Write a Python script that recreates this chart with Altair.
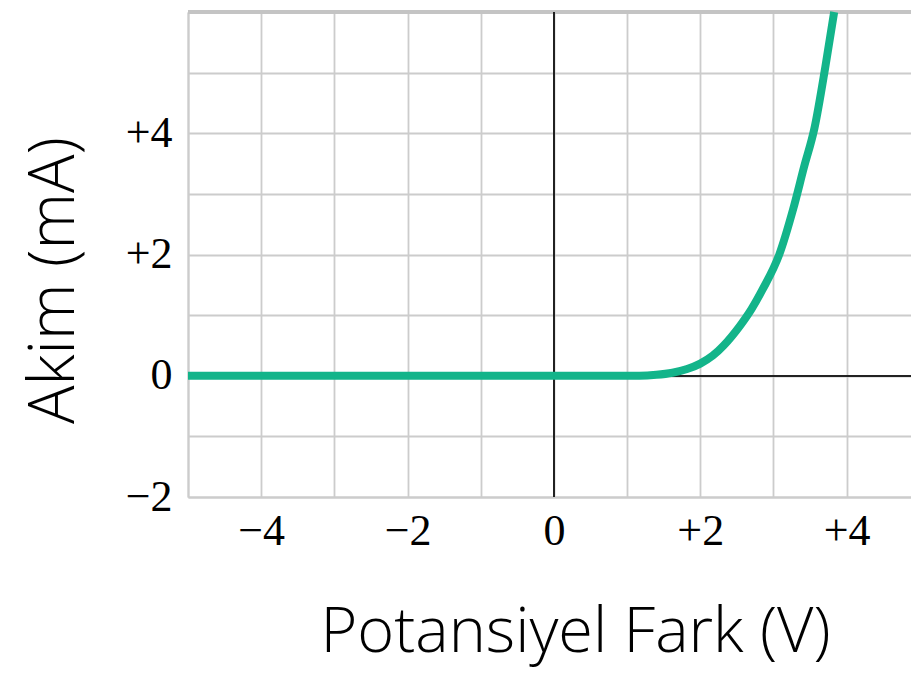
import altair as alt
import pandas as pd

# Current-voltage curve of a diode
voltage = [-5.0, 1.0, 1.17, 1.4, 1.62, 1.82, 2.0, 2.17, 2.32, 2.54, 2.7, 2.85, 3.08, 3.27, 3.42, 3.56, 3.71, 3.83]
current = [0.0, 0.0, 0.0, 0.015, 0.05, 0.11, 0.2, 0.33, 0.5, 0.82, 1.1, 1.42, 2.0, 2.75, 3.45, 4.08, 5.1, 6.0]

x_grid = [-5, -4, -3, -2, -1, 0, 1, 2, 3, 4]
y_grid = [-2, -1, 0, 1, 2, 3, 4, 5, 6]

df = pd.DataFrame({"V": voltage, "I": current})

# the picture is cut at its right edge a little before +5
x_scale = alt.Scale(domain=[-5, 4.88], nice=False, zero=False)
y_scale = alt.Scale(domain=[-2, 6], nice=False, zero=False)

label_expr = ("datum.value % 2 == 0 && datum.value > -5 && datum.value < 6 ? "
              "(datum.value > 0 ? '+' + datum.value : (datum.value < 0 ? '\u2212' + abs(datum.value) : '0')) : ''")

x_axis = alt.Axis(
    values=x_grid, labelExpr=label_expr, title="Potansiyel Fark (V)",
    grid=True, gridColor="#cccccc", gridWidth=1.8,
    ticks=False, tickSize=0, domain=True, domainColor="#cccccc", domainWidth=2,
    labelFont="Liberation Serif", labelFontSize=44, labelColor="#000000",
    labelPadding=12, labelFlush=False, labelOverlap=False, labelBound=False,
    titleFont="Open Sans", titleFontWeight=300, titleFontSize=63, titleColor="#000000",
    titleX=387, titleY=154, titleAlign="center", titleBaseline="alphabetic",
)
y_axis = alt.Axis(
    values=y_grid, labelExpr=label_expr, title="Akim (mA)",
    grid=True, gridColor="#cccccc", gridWidth=1.8,
    ticks=False, tickSize=0, domain=True, domainColor="#cccccc", domainWidth=2,
    labelFont="Liberation Serif", labelFontSize=44, labelColor="#000000",
    labelPadding=16, labelFlush=False, labelOverlap=False, labelBound=False,
    labelBaseline="middle",
    titleFont="Open Sans", titleFontWeight=300, titleFontSize=64, titleColor="#000000",
    titleX=-134, titleY=268, titleAlign="center", titleBaseline="middle", titleAngle=270,
)

base = alt.Chart(df)

curve = base.mark_line(color="#13b48a", strokeWidth=8, interpolate="monotone", strokeCap="butt").encode(
    x=alt.X("V:Q", scale=x_scale, axis=x_axis),
    y=alt.Y("I:Q", scale=y_scale, axis=y_axis),
)
top_border = base.mark_rule(color="#c4c4c4", strokeWidth=3).encode(
    y=alt.datum(6, scale=y_scale, axis=y_axis)
)
v_axis = base.mark_rule(color="#222222", strokeWidth=1.6).encode(
    x=alt.datum(0, scale=x_scale, axis=x_axis)
)
h_axis = base.mark_rule(color="#222222", strokeWidth=1.6).encode(
    y=alt.datum(0, scale=y_scale, axis=y_axis)
)

chart = alt.layer(top_border, v_axis, h_axis, curve).properties(
    width=723, height=485,
    autosize=alt.AutoSizeParams(type="none"),
    padding={"left": 180, "top": 4, "right": 0, "bottom": 172},
    background="white",
).configure_view(stroke=None)

chart.save("out.html", embed_options={"renderer": "svg", "actions": False})
